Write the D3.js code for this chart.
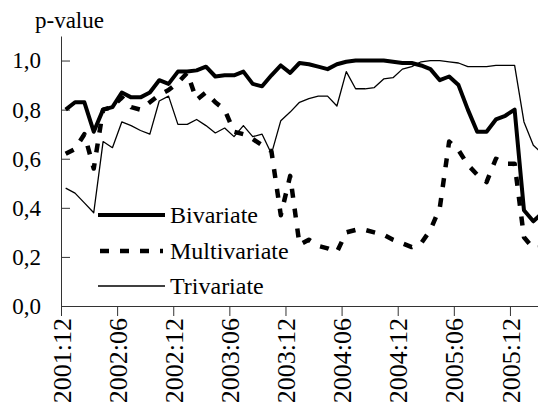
<!DOCTYPE html>
<html>
<head>
<meta charset="utf-8">
<script src="https://cdn.jsdelivr.net/npm/d3@7"></script>
<style>
  body { margin: 0; background: #fff; }
</style>
</head>
<body>
<div id="chart"></div>
<script>
// monthly categories, 2001:12 .. 2006:03
const months = d3.timeMonth.range(new Date(2001, 11, 1), new Date(2006, 3, 1))
    .map(d3.timeFormat("%Y:%m"));
const tickLabels = ["2001:12", "2002:06", "2002:12", "2003:06", "2003:12",
                    "2004:06", "2004:12", "2005:06", "2005:12"];
const yTicks = [0, 0.2, 0.4, 0.6, 0.8, 1.0];

const bivariate = [
    0.80, 0.83, 0.83, 0.71, 0.80, 0.81, 0.87, 0.85, 0.85, 0.87,
    0.92, 0.905, 0.955, 0.955, 0.96, 0.975, 0.935, 0.94, 0.94, 0.955,
    0.905, 0.895, 0.94, 0.98, 0.95, 0.99, 0.985, 0.975, 0.965, 0.985,
    0.995, 1.0, 1.0, 1.0, 1.0, 0.995, 0.99, 0.99, 0.98, 0.965,
    0.92, 0.935, 0.90, 0.80, 0.71, 0.71, 0.76, 0.775, 0.80, 0.39,
    0.345, 0.38
];
const multivariate = [
    0.62, 0.64, 0.70, 0.56, 0.80, 0.81, 0.85, 0.81, 0.80, 0.83,
    0.86, 0.88, 0.91, 0.95, 0.84, 0.87, 0.83, 0.80, 0.71, 0.70,
    0.68, 0.655, 0.63, 0.37, 0.53, 0.25, 0.27, 0.245, 0.235, 0.22,
    0.30, 0.31, 0.31, 0.30, 0.29, 0.27, 0.255, 0.24, 0.255, 0.31,
    0.40, 0.67, 0.635, 0.575, 0.535, 0.505, 0.60, 0.58, 0.58, 0.28,
    0.235, 0.24
];
const trivariate = [
    0.48, 0.46, 0.42, 0.38, 0.67, 0.645, 0.75, 0.735, 0.715, 0.70,
    0.835, 0.855, 0.74, 0.74, 0.76, 0.735, 0.705, 0.725, 0.69, 0.735,
    0.69, 0.70, 0.62, 0.755, 0.79, 0.83, 0.845, 0.855, 0.855, 0.815,
    0.955, 0.885, 0.885, 0.89, 0.925, 0.93, 0.965, 0.975, 0.995, 1.0,
    1.0, 0.995, 0.99, 0.975, 0.975, 0.975, 0.98, 0.98, 0.98, 0.75,
    0.655, 0.62
];

const width = 538, height = 405;
const serif = "Liberation Serif";

const svg = d3.select("#chart").append("svg")
    .attr("width", width)
    .attr("height", height);

// category axis: points sit in the middle of each month slot
const x = d3.scaleLinear().domain([0, 51]).range([61, 538]);
const y = d3.scaleLinear().domain([0, 1.1]).range([306, 36]);

const commaFmt = d => d3.format(".1f")(d).replace(".", ",");

// y axis
const gy = svg.append("g")
    .attr("transform", "translate(61,0)")
    .call(d3.axisLeft(y)
        .tickValues(yTicks)
        .tickSizeInner(-9)
        .tickSizeOuter(0)
        .tickPadding(20)
        .tickFormat(commaFmt));
gy.attr("font-family", serif).attr("font-size", 23);
gy.selectAll("text")
    .style("font-family", serif)
    .style("font-size", "23px")
    .attr("fill", "#000");

// x axis
const gx = svg.append("g")
    .attr("transform", "translate(0,306)")
    .call(d3.axisBottom(x)
        .tickValues(tickLabels.map(l => months.indexOf(l)))
        .tickFormat(i => months[i])
        .tickSize(10)
        .tickSizeOuter(0));
gx.attr("font-family", serif).attr("font-size", 26);
gx.selectAll("text")
    .attr("transform", "rotate(-90)")
    .attr("x", -12)
    .attr("y", 0)
    .attr("dy", "0.35em")
    .attr("fill", "#000")
    .style("text-anchor", "end")
    .style("font-family", serif)
    .style("font-size", "26px");

svg.selectAll(".domain, .tick line").attr("stroke", "#333");

svg.append("text")
    .attr("x", 35)
    .attr("y", 28)
    .style("font-family", serif)
    .style("font-size", "23px")
    .text("p-value");

const line = d3.line()
    .x((d, i) => x(i + 0.5))
    .y(d => y(d));

const series = [
    {name: "Bivariate", values: bivariate, width: 4, dash: null},
    {name: "Multivariate", values: multivariate, width: 4.5, dash: "9,11"},
    {name: "Trivariate", values: trivariate, width: 1.3, dash: null}
];

series.forEach(s => {
    svg.append("path")
        .datum(s.values)
        .attr("d", line)
        .attr("fill", "none")
        .attr("stroke", "#000")
        .attr("stroke-width", s.width)
        .attr("stroke-linejoin", "round")
        .attr("stroke-dasharray", s.dash);
});

// legend
const legY = [215, 251, 286];
series.forEach((s, k) => {
    svg.append("line")
        .attr("x1", s.dash ? 100 : 98)
        .attr("x2", s.dash ? 163 : 165)
        .attr("y1", legY[k])
        .attr("y2", legY[k])
        .attr("stroke", "#000")
        .attr("stroke-width", s.width)
        .attr("stroke-dasharray", s.dash);
    svg.append("text")
        .attr("x", 170)
        .attr("y", legY[k] + 7.5)
        .style("font-family", serif)
        .style("font-size", "24px")
        .text(s.name);
});
</script>
</body>
</html>
